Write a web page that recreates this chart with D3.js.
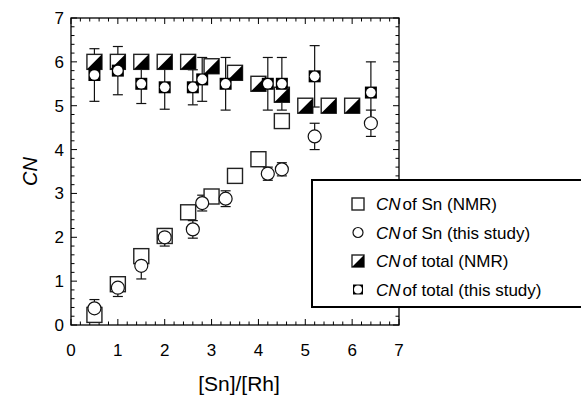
<!DOCTYPE html>
<html>
<head>
<meta charset="utf-8">
<script src="https://cdn.jsdelivr.net/npm/d3@7"></script>
<style>
  body { margin: 0; background: #fff; }
  svg text { font-family: "Liberation Sans", Arial, Helvetica, sans-serif; fill: #000; }
</style>
</head>
<body>
<div id="chart"></div>
<script>
// NMR series
const nmrX = [0.5, 1.0, 1.5, 2.0, 2.5, 3.0, 3.5, 4.0, 4.5];
const snNmr = [0.23, 0.93, 1.57, 2.03, 2.57, 2.93, 3.4, 3.78, 4.65];
const totNmrX = [0.5, 1.0, 1.5, 2.0, 2.5, 3.0, 3.5, 4.0, 4.5, 5.0, 5.5, 6.0];
const totNmr = [6.0, 6.0, 6.0, 6.0, 6.0, 5.9, 5.75, 5.5, 5.25, 5.0, 5.0, 5.0];

// this study
const studyX = [0.5, 1.0, 1.5, 2.0, 2.6, 2.8, 3.3, 4.2, 4.5, 5.2, 6.4];
const snStudy = [0.38, 0.85, 1.35, 2.0, 2.18, 2.78, 2.88, 3.45, 3.55, 4.3, 4.6];
const snStudyErr = [0.2, 0.2, 0.3, 0.2, 0.2, 0.18, 0.18, 0.15, 0.15, 0.3, 0.3];
const totStudy = [5.7, 5.8, 5.5, 5.42, 5.42, 5.6, 5.5, 5.5, 5.5, 5.67, 5.3];
const totStudyErr = [0.6, 0.55, 0.45, 0.5, 0.4, 0.5, 0.6, 0.6, 0.6, 0.7, 0.7];

const xTicks = [0, 1, 2, 3, 4, 5, 6, 7];
const yTicks = [0, 1, 2, 3, 4, 5, 6, 7];
const legendLabels = ["of Sn (NMR)", "of Sn (this study)", "of total (NMR)", "of total (this study)"];

const width = 581, height = 397;
const margin = { left: 71, right: 182, top: 18, bottom: 72 };

const svg = d3.select("#chart").append("svg")
  .attr("width", width)
  .attr("height", height);

const x = d3.scaleLinear().domain([0, 7]).range([margin.left, width - margin.right]);
const y = d3.scaleLinear().domain([0, 7]).range([height - margin.bottom, margin.top]);

const x0 = x.range()[0], x1 = x.range()[1];
const y0 = y.range()[0], y1 = y.range()[1];

// minor + major ticks, inward on all sides
const minor = d3.range(0, 7.001, 0.2);
const tickG = svg.append("g").attr("stroke", "#000").attr("stroke-width", 1);
minor.forEach(v => {
  const major = Math.abs(v - Math.round(v)) < 1e-6;
  const len = major ? 6 : 3.5;
  tickG.append("line").attr("x1", x(v)).attr("x2", x(v)).attr("y1", y0).attr("y2", y0 - len);
  tickG.append("line").attr("x1", x(v)).attr("x2", x(v)).attr("y1", y1).attr("y2", y1 + len);
  tickG.append("line").attr("y1", y(v)).attr("y2", y(v)).attr("x1", x0).attr("x2", x0 + len);
  tickG.append("line").attr("y1", y(v)).attr("y2", y(v)).attr("x1", x1).attr("x2", x1 - len);
});

svg.append("rect")
  .attr("x", x0).attr("y", y1)
  .attr("width", x1 - x0).attr("height", y0 - y1)
  .attr("fill", "none").attr("stroke", "#000").attr("stroke-width", 1.3);

svg.append("g").selectAll("text").data(xTicks).join("text")
  .attr("x", d => x(d)).attr("y", y0 + 31)
  .attr("text-anchor", "middle").attr("font-size", 17)
  .text(d => d);

svg.append("g").selectAll("text").data(yTicks).join("text")
  .attr("x", x0 - 7).attr("y", d => y(d) + 6)
  .attr("text-anchor", "end").attr("font-size", 17)
  .text(d => d);

svg.append("text")
  .attr("x", (x0 + x1) / 2 + 4).attr("y", 391)
  .attr("text-anchor", "middle").attr("font-size", 21)
  .text("[Sn]/[Rh]");

svg.append("text")
  .attr("transform", `translate(37,${(y0 + y1) / 2}) rotate(-90)`)
  .attr("text-anchor", "middle").attr("font-size", 20).attr("font-style", "italic")
  .text("CN");

// marker helpers
function openSquare(g, cx, cy, s) {
  g.append("rect").attr("x", cx - s / 2).attr("y", cy - s / 2)
    .attr("width", s).attr("height", s)
    .attr("fill", "#fff").attr("stroke", "#222").attr("stroke-width", 1.4);
}
function halfSquare(g, cx, cy, s) {
  openSquare(g, cx, cy, s);
  const h = s / 2;
  g.append("path")
    .attr("d", `M${cx - h},${cy + h}L${cx + h},${cy - h}L${cx + h},${cy + h}Z`)
    .attr("fill", "#000");
}
function openCircle(g, cx, cy, r) {
  g.append("circle").attr("cx", cx).attr("cy", cy).attr("r", r)
    .attr("fill", "#fff").attr("stroke", "#111").attr("stroke-width", 1.2);
}
function studySquare(g, cx, cy, s) {
  g.append("rect").attr("x", cx - s / 2).attr("y", cy - s / 2)
    .attr("width", s).attr("height", s).attr("fill", "#000");
  g.append("circle").attr("cx", cx).attr("cy", cy).attr("r", s * 0.4).attr("fill", "#fff");
}

// error bars
const errG = svg.append("g").attr("stroke", "#111").attr("stroke-width", 1.2);
function errBar(xv, yv, e) {
  const px = x(xv);
  errG.append("line").attr("x1", px).attr("x2", px).attr("y1", y(yv - e)).attr("y2", y(yv + e));
  [yv - e, yv + e].forEach(v => {
    errG.append("line").attr("x1", px - 5).attr("x2", px + 5).attr("y1", y(v)).attr("y2", y(v));
  });
}
studyX.forEach((xv, i) => {
  errBar(xv, snStudy[i], snStudyErr[i]);
  errBar(xv, totStudy[i], totStudyErr[i]);
});

const markG = svg.append("g");
nmrX.forEach((xv, i) => openSquare(markG, x(xv), y(snNmr[i]), 15));
totNmrX.forEach((xv, i) => halfSquare(markG, x(xv), y(totNmr[i]), 15));
studyX.forEach((xv, i) => openCircle(markG, x(xv), y(snStudy[i]), 6.5));
studyX.forEach((xv, i) => studySquare(markG, x(xv), y(totStudy[i]), 12));

// legend
const lg = svg.append("g");
lg.append("rect").attr("x", 312).attr("y", 180).attr("width", 280).attr("height", 127)
  .attr("fill", "#fff").attr("stroke", "#000").attr("stroke-width", 2);
const ly = d => 204 + d * 28.5;
openSquare(lg, 358, ly(0), 12);
openCircle(lg, 358, ly(1), 5);
halfSquare(lg, 358, ly(2), 12);
studySquare(lg, 358, ly(3), 10);
legendLabels.forEach((t, i) => {
  const tx = lg.append("text").attr("x", 376).attr("y", ly(i) + 6).attr("font-size", 17);
  tx.append("tspan").attr("font-style", "italic").text("CN");
  tx.append("tspan").attr("dx", 2).text(t);
});
</script>
</body>
</html>
